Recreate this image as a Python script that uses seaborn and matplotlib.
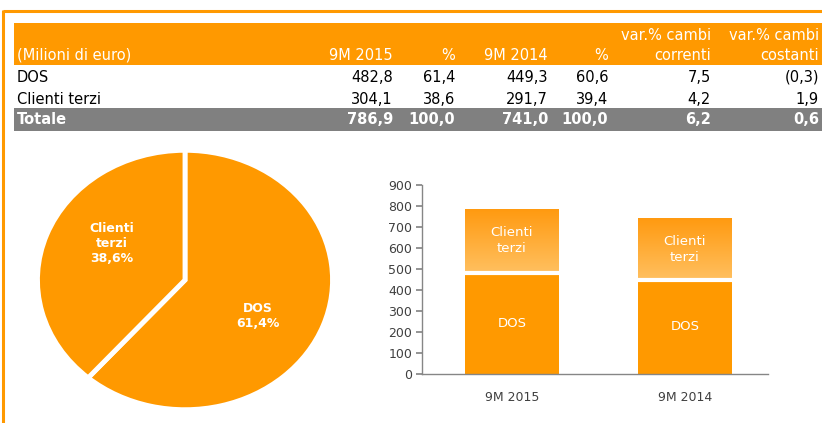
import numpy as np
import matplotlib
matplotlib.use('Agg')
import matplotlib.pyplot as plt
from matplotlib.patches import Rectangle
from matplotlib.colors import LinearSegmentedColormap
import seaborn as sns

# dati della tabella
righe = ['DOS', 'Clienti terzi', 'Totale']
val_2015 = [482.8, 304.1, 786.9]
pct_2015 = [61.4, 38.6, 100.0]
val_2014 = [449.3, 291.7, 741.0]
pct_2014 = [60.6, 39.4, 100.0]
var_correnti = [7.5, 4.2, 6.2]
var_costanti = [-0.3, 1.9, 0.6]

# dati dei grafici
periodi = ['9M 2015', '9M 2014']
dos = [val_2015[0], val_2014[0]]
terzi = [val_2015[1], val_2014[1]]
quote = [pct_2015[0], pct_2015[1]]

ARANCIO = '#FF9900'
GRIGIO = '#808080'

sns.set_theme(style='white')
plt.rcParams['font.family'] = ['DejaVu Sans']


def fmt(v):
    s = f'{abs(v):.1f}'.replace('.', ',')
    return f'({s})' if v < 0 else s


fig = plt.figure(figsize=(8.22, 4.23), dpi=100)

# livello in pixel per tabella e cornice
top = fig.add_axes([0, 0, 1, 1])
top.set_xlim(0, 822)
top.set_ylim(423, 0)
top.axis('off')

top.plot([3, 822], [11, 11], color=ARANCIO, lw=2.2, solid_capstyle='butt')
top.plot([3, 3], [10, 423], color=ARANCIO, lw=2.2, solid_capstyle='butt')
top.add_patch(Rectangle((14, 23), 808, 42, color=ARANCIO, lw=0))
top.add_patch(Rectangle((14, 108), 808, 23, color=GRIGIO, lw=0))

col_x = [393, 455, 548, 608, 711, 819]
top.text(17, 55, '(Milioni di euro)', color='white', fontsize=10.5, va='center')
intest2 = ['9M 2015', '%', '9M 2014', '%', 'correnti', 'costanti']
for x, t in zip(col_x, intest2):
    top.text(x, 55, t, color='white', fontsize=10.5, va='center', ha='right')
top.text(col_x[4], 35, 'var.% cambi', color='white', fontsize=10.5, va='center', ha='right')
top.text(col_x[5], 35, 'var.% cambi', color='white', fontsize=10.5, va='center', ha='right')

riga_y = [77, 99, 120]
for i, nome in enumerate(righe):
    tot = nome == 'Totale'
    c = 'white' if tot else 'black'
    w = 'bold' if tot else 'normal'
    top.text(17, riga_y[i], nome, color=c, fontweight=w, fontsize=10.5, va='center')
    valori = [val_2015[i], pct_2015[i], val_2014[i], pct_2014[i],
              var_correnti[i], var_costanti[i]]
    for x, v in zip(col_x, valori):
        top.text(x, riga_y[i], fmt(v), color=c, fontweight=w, fontsize=10.5,
                 va='center', ha='right')

# torta
ax_p = fig.add_axes([36 / 822, 12 / 423, 298 / 822, 262 / 423])
wedges, testi = ax_p.pie(quote, startangle=90, counterclock=False,
                         colors=[ARANCIO, ARANCIO],
                         labels=[f'DOS\n{fmt(quote[0])}%', f'Clienti\nterzi\n{fmt(quote[1])}%'],
                         labeldistance=0.57,
                         wedgeprops=dict(edgecolor='white', linewidth=3.5),
                         textprops=dict(color='white', fontweight='bold', fontsize=9))
# etichette leggermente ruotate in senso orario come nell'originale
rot = np.deg2rad(-9)
for t in testi:
    x, y = t.get_position()
    t.set_position((x * np.cos(rot) - y * np.sin(rot), x * np.sin(rot) + y * np.cos(rot)))
    t.set_ha('center')
    t.set_va('center')
ax_p.set_aspect('auto')
ax_p.set_xlim(-1.01, 1.01)
ax_p.set_ylim(-1.01, 1.01)
ax_p.axis('off')

# barre impilate
ax_b = fig.add_axes([422 / 822, 49 / 423, 346 / 822, 189 / 423])
totali = [d + t for d, t in zip(dos, terzi)]
sns.barplot(x=periodi, y=totali, color=ARANCIO, width=0.54, saturation=1,
            linewidth=0, ax=ax_b)
cmap = LinearSegmentedColormap.from_list('grad', ['#FFC060', '#FF9A10'])
grad = np.linspace(0, 1, 256).reshape(-1, 1)
for p, d, tt in zip(list(ax_b.patches), dos, totali):
    im = ax_b.imshow(grad, cmap=cmap, origin='lower', aspect='auto',
                     extent=[p.get_x(), p.get_x() + p.get_width(), d, tt], zorder=1.5)
    im.set_clip_path(p)
    # separazione bianca tra i due segmenti
    ax_b.hlines(d, p.get_x(), p.get_x() + p.get_width(), color='white', lw=3, zorder=2.5)
sns.barplot(x=periodi, y=dos, color=ARANCIO, width=0.54, saturation=1,
            linewidth=0, ax=ax_b)
for b in ax_b.patches[len(periodi):]:
    b.set_zorder(2)

for i in range(len(periodi)):
    ax_b.text(i, dos[i] / 2, 'DOS', color='white', fontsize=9.5,
              ha='center', va='center', zorder=3)
    ax_b.text(i, dos[i] + terzi[i] / 2, 'Clienti\nterzi', color='white', fontsize=9.5,
              ha='center', va='center', linespacing=1.3, zorder=3)

ax_b.set_aspect('auto')
ax_b.set_xlim(-0.52, 1.48)
ax_b.set_ylim(0, 900)
ax_b.set_yticks(range(0, 901, 100))
ax_b.set_xlabel('')
ax_b.set_ylabel('')
sns.despine(ax=ax_b)
for s in ['left', 'bottom']:
    ax_b.spines[s].set_color('#868686')
    ax_b.spines[s].set_linewidth(1)
ax_b.spines['bottom'].set_zorder(4)
ax_b.tick_params(axis='y', left=True, length=4, color='#868686', labelsize=9,
                 labelcolor='#404040', pad=3)
ax_b.tick_params(axis='x', bottom=False, labelsize=9, labelcolor='#404040', pad=6)

fig.savefig('out.png', dpi=100)
